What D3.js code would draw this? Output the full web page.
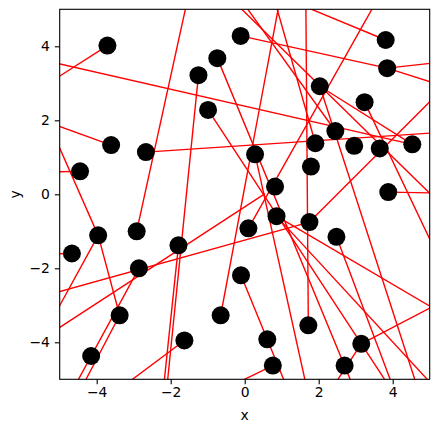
<!DOCTYPE html>
<html>
<head>
<meta charset="utf-8">
<script src="https://d3js.org/d3.v7.min.js"></script>
<style>
  * { margin:0; padding:0; box-sizing:border-box; }
  body { background:#fff; overflow:hidden; }
  svg { display:block; font-family:'DejaVu Sans',sans-serif; }
</style>
</head>
<body>
<svg id="chart" width="439" height="432"></svg>
<script>
// ── Data: black markers ──────────────────────────────────────────────────────
var pointX = [-3.71, 3.81, 3.85, -0.11, -0.74, -1.25, -0.99, 2.03, 3.24, 2.45,
              1.91, 2.96, 3.65, 4.53, 0.28, -3.61, -2.67, -4.45, 0.82, 1.79,
              3.88, 0.86, 0.10, 1.75, 2.48, -2.92, -3.96, -4.67, -2.86, -1.79,
              -0.10, -3.38, -1.63, -0.65, -4.15, 0.61, 1.72, 3.15, 0.76, 2.70];
var pointY = [4.02, 4.17, 3.41, 4.28, 3.68, 3.22, 2.28, 2.92, 2.49, 1.71,
              1.38, 1.31, 1.24, 1.35, 1.08, 1.33, 1.14, 0.62, 0.21, 0.75,
              0.06, -0.59, -0.92, -0.75, -1.15, -1.00, -1.11, -1.60, -2.00, -1.38,
              -2.19, -3.27, -3.95, -3.27, -4.37, -3.92, -3.54, -4.04, -4.63, -4.63];

// ── Data: red segments (ends may lie outside the view, they get clipped) ─────
var segX1 = [-3.71, -5.51, -1.49, -2.67, -5.51, -5.51, -5.50, -3.96, -3.96, -5.51,
             -5.51, -4.67, -1.25, -1.79, -0.99, -0.74, 1.00, 3.73, 0.28, 1.65,
             3.81, -0.11, 3.85, 3.85, 2.03, 3.24, 1.75, -0.61, -0.29, 3.88,
             2.03, 0.86, 3.15, 2.48, -0.10, 0.76, -1.63, -2.86, -3.38, 0.86,
             3.15, 0.73];
var segY1 = [4.02, 3.64, 5.52, 1.14, 2.02, 2.41, 0.60, -1.11, -1.11, -2.77,
             -3.93, -1.60, 3.22, -1.38, 2.28, 3.68, 5.52, 5.52, 1.08, 5.52,
             4.17, 4.28, 3.41, 3.41, 2.92, 2.49, -0.75, 5.52, 5.52, 0.06,
             2.92, -0.59, -4.04, -1.15, -2.19, -4.63, -3.95, -2.00, -3.27, -0.59,
             -4.04, 5.52];
var segX2 = [-5.51, 4.53, -2.92, 5.55, -3.61, -3.96, -4.45, -3.38, -5.51, 1.75,
             0.55, -5.50, -2.11, -2.20, 3.97, 2.97, -0.65, 0.10, 1.69, 1.72,
             0.55, 3.85, 5.55, 5.55, 4.53, 5.55, 5.55, 5.55, 2.45, 5.55,
             4.69, 5.05, 5.05, 4.04, 1.17, -0.60, -3.42, -4.65, -4.44, 5.20,
             2.33, 1.91];
var segY2 = [2.87, 1.35, -1.00, 1.69, 1.33, -1.11, 0.62, -3.27, -3.94, -0.75,
             0.02, -1.62, -5.29, -5.29, -5.29, -5.29, -3.27, -0.92, -5.29, -3.54,
             5.52, 3.41, 3.60, 2.87, 1.35, -2.36, 3.05, -0.51, 1.71, 0.03,
             -5.29, -3.05, -3.05, -5.29, -5.29, -5.29, -5.29, -5.29, -5.29, -5.29,
             -5.29, 1.38];

var tickValues = [-4, -2, 0, 2, 4];
var xLabel = "x";
var yLabel = "y";

// ── Layout ───────────────────────────────────────────────────────────────────
var plotLeft = 59.7, plotRight = 429.7, plotTop = 9.3, plotBottom = 379.3;
var fontPx = 13.9;

var svg = d3.select("#chart");

var x = d3.scaleLinear().domain([-5, 5]).range([plotLeft, plotRight]);
var y = d3.scaleLinear().domain([-5, 5]).range([plotBottom, plotTop]);

svg.append("defs").append("clipPath").attr("id", "plot-clip")
  .append("rect")
  .attr("x", plotLeft).attr("y", plotTop)
  .attr("width", plotRight - plotLeft).attr("height", plotBottom - plotTop);

// ── Segments, then markers on top ────────────────────────────────────────────
var segments = d3.range(segX1.length).map(function(i) {
  return { x1: segX1[i], y1: segY1[i], x2: segX2[i], y2: segY2[i] };
});

svg.append("g")
  .attr("clip-path", "url(#plot-clip)")
  .selectAll("line")
  .data(segments)
  .join("line")
  .attr("x1", function(d) { return x(d.x1); })
  .attr("y1", function(d) { return y(d.y1); })
  .attr("x2", function(d) { return x(d.x2); })
  .attr("y2", function(d) { return y(d.y2); })
  .attr("stroke", "#ff0000")
  .attr("stroke-width", 1.4);

var points = pointX.map(function(v, i) { return { x: v, y: pointY[i] }; });

svg.append("g")
  .attr("clip-path", "url(#plot-clip)")
  .selectAll("circle")
  .data(points)
  .join("circle")
  .attr("cx", function(d) { return x(d.x); })
  .attr("cy", function(d) { return y(d.y); })
  .attr("r", 9)
  .attr("fill", "#000");

// ── Axes ─────────────────────────────────────────────────────────────────────
var fmt = function(v) { return v < 0 ? "\u2212" + Math.abs(v) : String(v); };

var xAxis = svg.append("g")
  .attr("transform", "translate(0," + plotBottom + ")")
  .call(d3.axisBottom(x).tickValues(tickValues).tickFormat(fmt).tickSize(4.9).tickPadding(3.2));

var yAxis = svg.append("g")
  .attr("transform", "translate(" + plotLeft + ",0)")
  .call(d3.axisLeft(y).tickValues(tickValues).tickFormat(fmt).tickSize(4.9).tickPadding(4.9));

[xAxis, yAxis].forEach(function(g) {
  g.select(".domain").remove();
  g.selectAll(".tick line").attr("stroke", "#000").attr("stroke-width", 1.1);
  g.selectAll(".tick text")
    .attr("fill", "#000")
    .style("font-size", fontPx + "px")
    .style("font-family", "'DejaVu Sans',sans-serif");
});

// frame
svg.append("rect")
  .attr("x", plotLeft).attr("y", plotTop)
  .attr("width", plotRight - plotLeft).attr("height", plotBottom - plotTop)
  .attr("fill", "none")
  .attr("stroke", "#000")
  .attr("stroke-width", 1.1);

// axis labels
svg.append("text")
  .attr("x", (plotLeft + plotRight) / 2)
  .attr("y", 420)
  .attr("text-anchor", "middle")
  .style("font-size", fontPx + "px")
  .text(xLabel);

svg.append("text")
  .attr("transform", "translate(20," + ((plotTop + plotBottom) / 2) + ") rotate(-90)")
  .attr("text-anchor", "middle")
  .style("font-size", fontPx + "px")
  .text(yLabel);
</script>
</body>
</html>
